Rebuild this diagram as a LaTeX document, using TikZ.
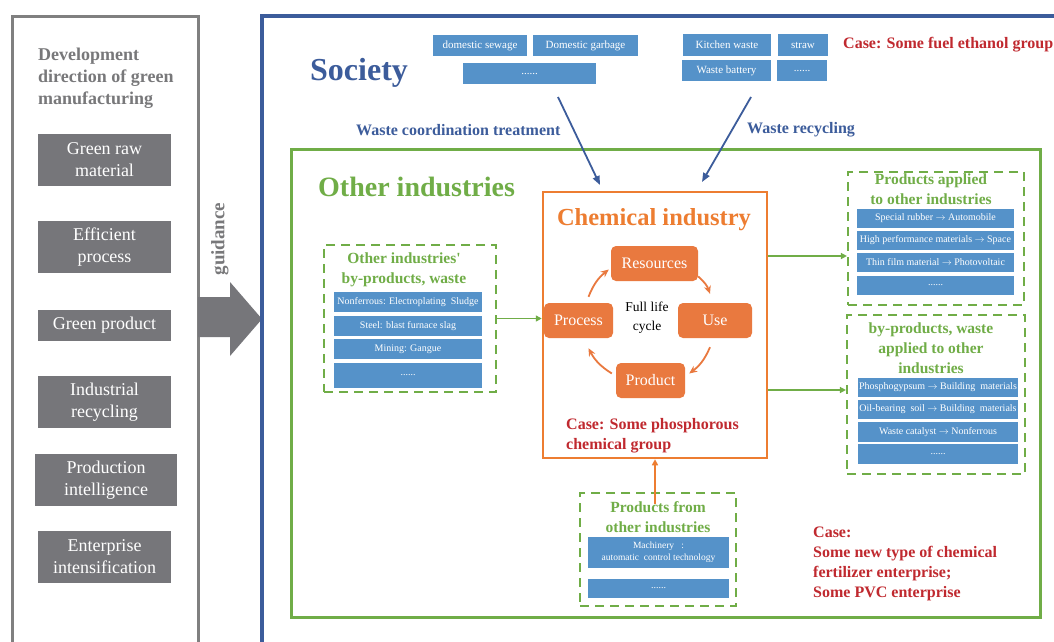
\documentclass[tikz,border=0pt]{standalone}
\usepackage{fontspec}
\setmainfont{Liberation Serif}
\usetikzlibrary{arrows.meta,calc}
\newcommand\fsz[2]{\fontsize{#1}{#2}\selectfont}
\definecolor{framegray}{HTML}{808080}
\definecolor{cellgray}{HTML}{76767A}
\definecolor{titlegray}{HTML}{78787A}
\definecolor{socblue}{HTML}{3C5C9B}
\definecolor{cellblue}{HTML}{5592C9}
\definecolor{frgreen}{HTML}{70AD47}
\definecolor{chemorange}{HTML}{ED7D31}
\definecolor{cycorange}{HTML}{E9793F}
\definecolor{casered}{HTML}{C0292F}
\begin{document}
\begin{tikzpicture}[x=1pt,y=-1pt,
  sz/.style 2 args={minimum width=#1pt,minimum height=#2pt},
  graycell/.style={fill=cellgray,text=white,inner sep=0pt,align=center,font=\fsz{18}{22}},
  bluecell/.style={fill=cellblue,text=white,inner sep=0pt,align=center,font=\fsz{10}{12}},
  topcell/.style={bluecell,font=\fsz{11}{13}},
  dashbox/.style={draw=frgreen,line width=2.2pt,dash pattern=on 9pt off 6pt,inner sep=0pt},
  cyclebox/.style={fill=cycorange,text=white,rounded corners=5pt,inner sep=0pt,font=\fsz{16}{18}},
  greenhead/.style={text=frgreen,font=\bfseries\fsz{15.5}{20},align=center,inner sep=0pt},
  casetext/.style={text=casered,font=\bfseries\fsz{16}{20},align=left,inner sep=0pt},
  bluelabel/.style={text=socblue,font=\bfseries\fsz{16}{20},inner sep=0pt},
  bluearrow/.style={draw=socblue,line width=1.8pt,-{Triangle[length=9pt,width=7pt]}},
  greenarrow/.style={draw=frgreen,line width=1.6pt,-{Triangle[length=6pt,width=6pt]}},
  cyclearrow/.style={draw=cycorange,line width=1.8pt,-{Stealth[length=8pt,width=7pt]}},
]
\useasboundingbox (0,0) rectangle (1054,641);
\clip (0,0) rectangle (1054,641);
\fill[white] (0,0) rectangle (1054,641);

% ---------- left column: development directions ----------
% (multi-line nodes below are anchored at the baseline of their last line)
\draw[framegray,line width=3pt] (12,16) rectangle (198,700);
\node[anchor=base west,align=left,text=titlegray,font=\bfseries\fsz{18}{22},inner sep=0pt]
  (devtitle) at (38,104) {Development\\direction of green\\manufacturing};
\node[graycell,sz={133}{52}] (g1) at (104.5,160) {Green raw\\material};
\node[graycell,sz={133}{52}] (g2) at (104.5,247) {Efficient\\process};
\node[graycell,sz={133}{31}] (g3) at (104.5,325.5) {Green product};
\node[graycell,sz={133}{52}] (g4) at (104.5,402) {Industrial\\recycling};
\node[graycell,sz={142}{52}] (g5) at (106,480) {Production\\intelligence};
\node[graycell,sz={133}{52}] (g6) at (104.5,557) {Enterprise\\intensification};

% guidance arrow
\fill[cellgray] (198,297) -- (230,297) -- (230,282) -- (262,319) -- (230,356) -- (230,337) -- (198,337) -- cycle;
\node[rotate=90,text=titlegray,font=\bfseries\fsz{19}{22},inner sep=0pt] (guid) at (220,239) {guidance};

% ---------- society frame ----------
\draw[socblue,line width=3.2pt] (262,16) rectangle (1100,700);
\node[anchor=base west,text=socblue,font=\bfseries\fsz{32}{36},inner sep=0pt] (soc) at (310,80) {Society};

\node[topcell,sz={94}{21}] (ds) at (480,45.5) {domestic sewage};
\node[topcell,sz={105}{21}] (dg) at (585.5,45.5) {Domestic garbage};
\node[topcell,sz={133}{21}] (dd) at (529.5,73.5) {......};
\node[topcell,sz={88}{22}] (kw) at (727,45) {Kitchen waste};
\node[topcell,sz={50}{22}] (st) at (803,45) {straw};
\node[topcell,sz={89}{21}] (wb) at (726.5,70.5) {Waste battery};
\node[topcell,sz={50}{21}] (wd) at (802,70.5) {......};

\node[casetext,anchor=base west] (case1) at (843,48) {Case: Some fuel ethanol group};

\node[bluelabel,anchor=base west] (wct) at (356,135) {Waste coordination treatment};
\node[bluelabel,anchor=base west] (wr) at (747,133) {Waste recycling};

% ---------- other industries frame ----------
\draw[frgreen,line width=3pt] (291,149) rectangle (1040,617);
\node[anchor=base west,text=frgreen,font=\bfseries\fsz{28}{32},inner sep=0pt] (oth) at (318,196) {Other industries};

% ---------- chemical industry ----------
\node[draw=chemorange,line width=2.5pt,sz={224}{266},inner sep=0pt] (chem) at (655,325) {};
\node[anchor=base,text=chemorange,font=\bfseries\fsz{24.5}{28},inner sep=0pt] (chemt) at (654,225) {Chemical industry};

\node[cyclebox,sz={87}{35}] (res) at (654.5,263.5) {Resources};
\node[cyclebox,sz={69}{35}] (proc) at (578.5,320.5) {Process};
\node[cyclebox,sz={74}{35}] (use) at (715,320.5) {Use};
\node[cyclebox,sz={69}{35}] (prod) at (650.5,380.5) {Product};
\node[align=center,font=\fsz{13.5}{19},inner sep=0pt] (flc) at (647,318) {Full life\\cycle};

\draw[cyclearrow] ($(proc.north)+(10,-6)$) to[bend left=15] ($(res.west)+(-2,6)$);
\draw[cyclearrow] ($(res.east)+(0,13)$) to[bend left=15] ($(use.north)+(-5,-9)$);
\draw[cyclearrow] ($(use.south)+(-5,9)$) to[bend left=15] ($(prod.east)+(4,-7)$);
\draw[cyclearrow] ($(prod.west)+(-4,-7)$) to[bend left=15] ($(proc.south)+(10,10)$);

\node[casetext,anchor=base west] (case2) at (566,449) {Case: Some phosphorous\\chemical group};

% society arrows into the chemical industry
\coordinate (w1s) at (558,97);
\coordinate (w1e) at (600,185);
\coordinate (w2s) at (751,97);
\coordinate (w2e) at (702,182);
\draw[bluearrow] (w1s) -- (w1e);
\draw[bluearrow] (w2s) -- (w2e);

% ---------- left dashed group ----------
\node[dashbox,sz={172}{147}] (lbox) at (410,318.5) {};
\node[greenhead,anchor=base] (lboxt) at (404,283) {Other industries\textquotesingle\\by-products, waste};
\node[bluecell,sz={148}{20}] (l1) at (408,302) {Nonferrous: Electroplating\ \ Sludge};
\node[bluecell,sz={148}{20}] (l2) at (408,326) {Steel: blast furnace slag};
\node[bluecell,sz={148}{20}] (l3) at (408,349) {Mining: Gangue};
\node[bluecell,sz={148}{25}] (l4) at (408,375.5) {......};
\draw[greenarrow] (lbox.east) -- (lbox.east -| chem.west);

% ---------- right dashed group 1 ----------
\node[dashbox,sz={176}{133}] (rb1) at (936,238.5) {};
\node[greenhead,anchor=base] (rb1t) at (931,204) {Products applied\\to other industries};
\node[bluecell,sz={157}{19}] (r11) at (935.5,218.5) {Special rubber $\rightarrow$ Automobile};
\node[bluecell,sz={157}{19}] (r12) at (935.5,240) {High performance materials $\rightarrow$ Space};
\node[bluecell,sz={157}{19}] (r13) at (935.5,262.5) {Thin film material $\rightarrow$ Photovoltaic};
\node[bluecell,sz={157}{19}] (r14) at (935.5,285.5) {......};
\draw[greenarrow] (chem.east |- 0,256) -- (rb1.west |- 0,256);

% ---------- right dashed group 2 ----------
\node[dashbox,sz={178}{159}] (rb2) at (936,394.5) {};
\node[greenhead,anchor=base] (rb2t) at (931,373) {by-products, waste\\applied to other\\industries};
\node[bluecell,sz={160}{19}] (r21) at (938,387.5) {Phosphogypsum $\rightarrow$ Building\ \ materials};
\node[bluecell,sz={160}{19}] (r22) at (938,409.5) {Oil-bearing\ \ soil $\rightarrow$ Building\ \ materials};
\node[bluecell,sz={160}{20}] (r23) at (938,432) {Waste catalyst $\rightarrow$ Nonferrous};
\node[bluecell,sz={160}{20}] (r24) at (938,454) {......};
\draw[greenarrow] (chem.east |- 0,390) -- (rb2.west |- 0,390);

% ---------- bottom dashed group ----------
\node[dashbox,sz={156}{113}] (bbox) at (658,549.5) {};
\node[greenhead,anchor=base] (bboxt) at (658,532) {Products from\\other industries};
\node[bluecell,sz={141}{31},font=\fsz{9.5}{12}] (b1) at (658.5,552.5) {Machinery\ \ \ :\\automatic\ \ control technology};
\node[bluecell,sz={141}{19}] (b2) at (658.5,588.5) {......};
\draw[draw=chemorange,line width=1.8pt,-{Triangle[length=6pt,width=6pt]}] ($(bbox.north)+(-3,12)$) -- (chem.south);

% ---------- case note ----------
\node[casetext,anchor=base west] (case3) at (813,597) {Case:\\Some new type of chemical\\fertilizer enterprise;\\Some PVC enterprise};
\end{tikzpicture}
\end{document}
